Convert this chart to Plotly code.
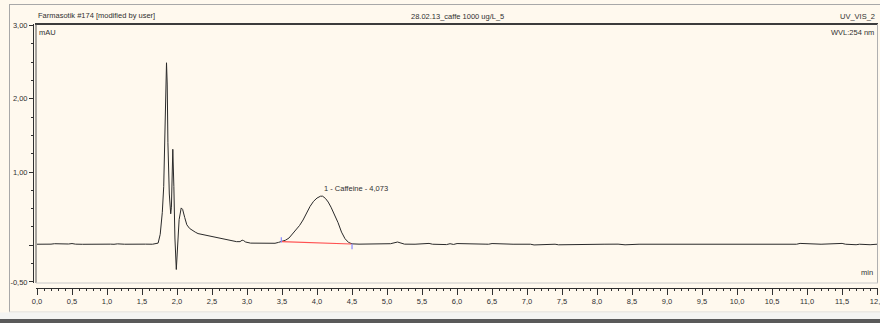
import plotly.graph_objects as go

# ---------------- data ----------------
time_min = [0.00, 0.10, 0.20, 0.25, 0.30, 0.35, 0.45, 0.50, 0.55, 0.65, 0.80, 0.95, 1.00, 1.05,
            1.10, 1.15, 1.25, 1.35, 1.40, 1.45, 1.55, 1.65, 1.70, 1.73, 1.76, 1.79, 1.81,
            1.83, 1.85, 1.86, 1.87, 1.89, 1.91, 1.92, 1.94, 1.955, 1.97, 1.99, 2.01, 2.03,
            2.06, 2.08, 2.11, 2.14, 2.18, 2.22, 2.26, 2.30, 2.35, 2.40, 2.45, 2.50, 2.55,
            2.60, 2.65, 2.70, 2.75, 2.80, 2.85, 2.90, 2.93, 2.95, 2.98, 3.05, 3.20, 3.30,
            3.40, 3.45, 3.50, 3.55, 3.60, 3.65, 3.70, 3.75, 3.80, 3.85, 3.90, 3.95, 4.00,
            4.05, 4.08, 4.12, 4.16, 4.20, 4.25, 4.30, 4.35, 4.40, 4.45, 4.50, 4.60, 4.75,
            4.85, 4.95, 5.05, 5.15, 5.25, 5.40, 5.55, 5.60, 5.65, 5.80, 5.85, 5.90, 5.95,
            6.00, 6.20, 6.40, 6.45, 6.50, 6.80, 7.00, 7.05, 7.10, 7.35, 7.40, 7.45, 7.80,
            8.10, 8.30, 8.35, 8.40, 8.60, 8.85, 8.90, 8.95, 9.20, 9.30, 9.40, 9.55, 9.60,
            9.80, 9.85, 10.00, 10.30, 10.80, 10.85, 10.90, 11.15, 11.20, 11.50, 11.55,
            11.70, 11.75, 11.90, 12.00]
signal_mau = [0.015, 0.012, 0.016, 0.022, 0.020, 0.014, 0.018, 0.024, 0.016, 0.014, 0.017,
              0.015, 0.024, 0.016, 0.014, 0.020, 0.015, 0.016, 0.023, 0.015, 0.016, 0.015,
              0.018, 0.03, 0.15, 0.45, 0.80, 1.60, 2.49, 2.20, 1.40, 0.70, 0.43, 0.52,
              1.31, 0.80, 0.10, -0.33, 0.00, 0.35, 0.51, 0.49, 0.38, 0.28, 0.23, 0.20,
              0.18, 0.16, 0.15, 0.14, 0.125, 0.11, 0.10, 0.09, 0.085, 0.075, 0.065, 0.055,
              0.05, 0.05, 0.07, 0.065, 0.045, 0.03, 0.025, 0.022, 0.028, 0.04, 0.05, 0.07,
              0.10, 0.155, 0.21, 0.27, 0.345, 0.44, 0.53, 0.60, 0.645, 0.67, 0.67, 0.64,
              0.59, 0.52, 0.42, 0.31, 0.18, 0.09, 0.04, 0.02, 0.016, 0.015, 0.018, 0.014,
              0.022, 0.045, 0.016, 0.015, 0.016, 0.026, 0.015, 0.014, 0.010, 0.022, 0.012,
              0.024, 0.015, 0.016, 0.015, 0.024, 0.015, 0.016, 0.015, 0.005, 0.015, 0.015,
              0.007, 0.015, 0.015, 0.016, 0.015, 0.007, 0.015, 0.015, 0.015, 0.008, 0.015,
              0.015, 0.008, 0.015, 0.008, 0.015, 0.015, 0.008, 0.015, 0.015, 0.015, 0.026,
              0.015, 0.015, 0.026, 0.015, 0.008, 0.015, 0.008, 0.015, 0.015, 0.015]

baseline_time = [3.49, 4.49]
baseline_mau = [0.05, 0.018]
marker_time = [3.49, 3.49, None, 4.50, 4.50]
marker_mau = [0.04, 0.11, None, 0.02, -0.055]

peak_label = "1 - Caffeine - 4,073"
peak_time = 4.073
peak_height = 0.67

x_tick_vals = [i * 0.5 for i in range(25)]
x_tick_text = [("%.1f" % v).replace(".", ",") for v in x_tick_vals]
y_tick_vals = [-0.5, 0.0, 1.0, 2.0, 3.0]
y_tick_text = ["-0,50", "", "1,00", "2,00", "3,00"]

title_left = "Farmasotik #174 [modified by user]"
title_mid = "28.02.13_caffe 1000 ug/L_5"
title_right = "UV_VIS_2"
unit_y = "mAU"
wavelength = "WVL:254 nm"
unit_x = "min"

# ---------------- layout helpers (pixel -> paper) ----------------
W, H = 880, 323
L, R, T, B = 33, 0, 24, 35
PW = W - L - R
PH = H - T - B


def px(x):
    return (x - L) / PW


def py(y):
    return (H - B - y) / PH


FONT = "Liberation Sans, Arial, sans-serif"
FS = 7.5
BG = "#FFF9EE"
TXT = "#303030"

fig = go.Figure()
fig.add_trace(go.Scatter(x=time_min, y=signal_mau, mode="lines",
                         line=dict(color="#2a2a2a", width=1), hoverinfo="skip"))
fig.add_trace(go.Scatter(x=baseline_time, y=baseline_mau, mode="lines",
                         line=dict(color="#FF5050", width=1.2), hoverinfo="skip"))
fig.add_trace(go.Scatter(x=marker_time, y=marker_mau, mode="lines",
                         line=dict(color="#8888FF", width=1.2), hoverinfo="skip"))

shapes = []
# outer frame lines
shapes.append(dict(type="line", xref="paper", yref="paper", x0=px(9.5), x1=px(9.5),
                   y0=py(4), y1=py(312), line=dict(color="#A8A8A8", width=1)))
shapes.append(dict(type="line", xref="paper", yref="paper", x0=px(9), x1=px(880),
                   y0=py(4.5), y1=py(4.5), line=dict(color="#A8A8A8", width=1)))
shapes.append(dict(type="line", xref="paper", yref="paper", x0=px(9), x1=px(880),
                   y0=py(312), y1=py(312), line=dict(color="#D8D8D8", width=1)))
# bottom strips
shapes.append(dict(type="rect", xref="paper", yref="paper", x0=px(0), x1=px(880),
                   y0=py(319), y1=py(312.5), fillcolor="#F4F4F2", line=dict(width=0)))
shapes.append(dict(type="rect", xref="paper", yref="paper", x0=px(0), x1=px(880),
                   y0=py(323), y1=py(319), fillcolor="#5A5A5A", line=dict(width=0)))
# header bottom line (thick dark)
shapes.append(dict(type="line", xref="paper", yref="paper", x0=px(35), x1=px(878),
                   y0=py(24), y1=py(24), line=dict(color="#3C3C3C", width=2)))
# plot frame
shapes.append(dict(type="line", xref="paper", yref="paper", x0=px(36), x1=px(36),
                   y0=py(24), y1=py(283), line=dict(color="#505050", width=1)))
shapes.append(dict(type="line", xref="paper", yref="paper", x0=px(877.5), x1=px(877.5),
                   y0=py(24), y1=py(283), line=dict(color="#B0B0B0", width=1)))
shapes.append(dict(type="line", xref="paper", yref="paper", x0=px(36), x1=px(878),
                   y0=py(283), y1=py(283), line=dict(color="#C8C8C8", width=1)))

ann = []


def add_text(text, x, y, xanchor, size=FS):
    ann.append(dict(text=text, xref="paper", yref="paper", x=px(x), y=py(y),
                    xanchor=xanchor, yanchor="middle", showarrow=False,
                    font=dict(family=FONT, size=size, color=TXT)))


add_text(title_left, 36, 15.5, "left")
add_text(title_mid, 457, 16, "center")
add_text(title_right, 877, 16, "right")
add_text(unit_y, 37, 33, "left")
add_text(wavelength, 876, 33, "right")
add_text(unit_x, 875, 272.5, "right")

ann.append(dict(text=peak_label, x=peak_time, y=peak_height, xref="x", yref="y",
                xanchor="left", yanchor="bottom", yshift=1, xshift=0, showarrow=False,
                font=dict(family=FONT, size=FS, color=TXT)))

fig.update_layout(
    width=W, height=H,
    margin=dict(l=L, r=R, t=T, b=B, pad=0, autoexpand=False),
    paper_bgcolor=BG, plot_bgcolor=BG,
    showlegend=False,
    shapes=shapes, annotations=ann,
    xaxis=dict(domain=[px(36), px(877.5)], range=[-0.0143, 12.006], anchor="free", position=0,
               automargin=False,
               showline=True, linecolor="#303030", linewidth=1,
               ticks="outside", ticklen=6, tickcolor="#303030", tickwidth=1,
               tickvals=x_tick_vals, ticktext=x_tick_text, ticklabeloverflow="allow",
               tickfont=dict(family=FONT, size=FS, color=TXT),
               minor=dict(dtick=0.1, tick0=0, ticks="outside", ticklen=2,
                          tickcolor="#303030", showgrid=False),
               showgrid=False, zeroline=False, fixedrange=True),
    yaxis=dict(domain=[py(283), 1], range=[-0.514, 3.019], anchor="free", position=0,
               automargin=False,
               showline=True, linecolor="#303030", linewidth=1,
               ticks="outside", ticklen=4, tickcolor="#303030", tickwidth=1,
               tickvals=y_tick_vals, ticktext=y_tick_text,
               tickfont=dict(family=FONT, size=FS, color=TXT),
               minor=dict(dtick=0.25, tick0=0, ticks="outside", ticklen=2,
                          tickcolor="#303030", showgrid=False),
               showgrid=False, zeroline=False, fixedrange=True),
)

fig.write_html("out.html")
